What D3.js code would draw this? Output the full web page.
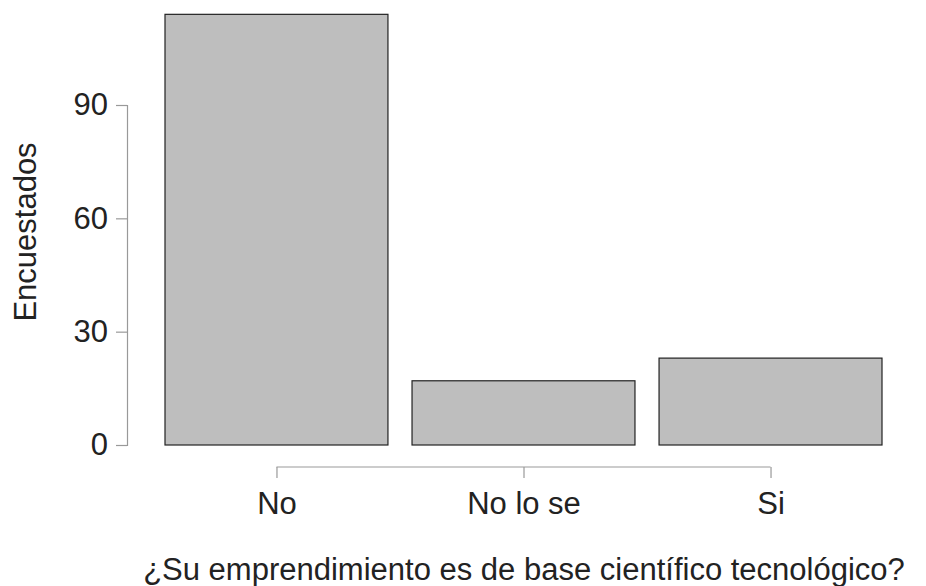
<!DOCTYPE html>
<html><head><meta charset="utf-8">
<script src="https://cdn.jsdelivr.net/npm/d3@7"></script>
<style>body{margin:0;background:#fff}text{font-family:"Liberation Sans",Arial,sans-serif;fill:#222}</style>
</head><body><div id="chart"></div>
<script>
const width = 926, height = 586;
const categories = ['No', 'No lo se', 'Si'];
const counts = [114, 17, 23];
const yTicks = [0, 30, 60, 90];

const svg = d3.select('#chart').append('svg').attr('width', width).attr('height', height);

const y = d3.scaleLinear().domain([0, 90]).range([445, 105]);
const space = 0.108;
const x = d3.scaleLinear().domain([space, space + 3 + 2 * space]).range([165, 882]);

svg.selectAll('rect').data(counts).join('rect')
  .attr('x', (d, i) => x(space + i * (1 + space)))
  .attr('width', x(1 + space) - x(space))
  .attr('y', d => y(d))
  .attr('height', d => y(0) - y(d))
  .attr('fill', '#bebebe').attr('stroke', '#222').attr('stroke-width', 1.2);

const yAxis = svg.append('g').attr('transform', 'translate(127,0)')
  .call(d3.axisLeft(y).tickValues(yTicks).tickSize(11).tickPadding(8));
const xc = d3.scaleOrdinal().domain(categories)
  .range(categories.map((c, i) => x(space + 0.5 + i * (1 + space))));
const xAxis = svg.append('g').attr('transform', 'translate(0,467)')
  .call(d3.axisBottom(xc).tickSize(11).tickPadding(14));
xAxis.select('.domain').attr('d', `M${xc('No')},0H${xc('Si')}`);
[yAxis, xAxis].forEach(g => {
  g.selectAll('path,line').attr('stroke', '#999').attr('stroke-width', 1.2);
  g.selectAll('text').attr('font-size', 31).attr('fill', '#222')
    .attr('font-family', '"Liberation Sans",Arial,sans-serif');
});

svg.append('text').attr('transform', 'translate(36,232) rotate(-90)')
  .attr('text-anchor', 'middle').attr('font-size', 31).text('Encuestados');
svg.append('text').attr('x', 524).attr('y', 580)
  .attr('text-anchor', 'middle').attr('font-size', 31)
  .text('¿Su emprendimiento es de base científico tecnológico?');
</script></body></html>
